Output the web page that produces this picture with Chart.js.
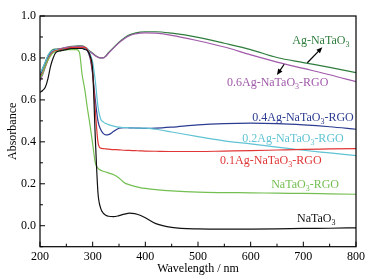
<!DOCTYPE html>
<html>
<head>
<meta charset="utf-8">
<script src="https://cdn.jsdelivr.net/npm/chart.js@4.4.0/dist/chart.umd.min.js"></script>
<style>
  body { margin: 0; background: #fff; }
  #wrap { width: 374px; height: 280px; }
</style>
</head>
<body>
<div id="wrap"><canvas id="myChart" width="374" height="280"></canvas></div>
<script>
// wavelength grid (nm) shared by all spectra
const wavelength = [200, 205, 210, 215, 220, 225, 230, 240, 250, 260, 270, 275, 280, 285, 290, 295, 300, 305, 310, 315, 320, 325, 330, 340, 350, 360, 370, 380, 390, 400, 420, 450, 500, 550, 600, 650, 700, 750, 800];

// absorbance values
const naTaO3 = [0.635, 0.645, 0.66, 0.70, 0.76, 0.80, 0.825, 0.835, 0.84, 0.845, 0.845, 0.845, 0.845, 0.84, 0.835, 0.81, 0.74, 0.42, 0.16, 0.085, 0.06, 0.05, 0.045, 0.043, 0.048, 0.055, 0.06, 0.058, 0.05, 0.038, 0.01, -0.008, -0.015, -0.016, -0.016, -0.015, -0.013, -0.012, -0.01];
const naTaO3Rgo = [0.705, 0.725, 0.76, 0.79, 0.81, 0.825, 0.83, 0.835, 0.84, 0.84, 0.84, 0.825, 0.72, 0.65, 0.56, 0.48, 0.39, 0.30, 0.275, 0.265, 0.26, 0.256, 0.252, 0.243, 0.228, 0.205, 0.195, 0.188, 0.182, 0.178, 0.172, 0.166, 0.16, 0.158, 0.157, 0.155, 0.154, 0.152, 0.15];
const ag01 = [0.71, 0.73, 0.76, 0.79, 0.815, 0.83, 0.835, 0.84, 0.845, 0.85, 0.85, 0.85, 0.85, 0.85, 0.84, 0.81, 0.73, 0.55, 0.40, 0.37, 0.368, 0.366, 0.365, 0.363, 0.362, 0.36, 0.359, 0.358, 0.357, 0.356, 0.355, 0.354, 0.354, 0.356, 0.358, 0.361, 0.364, 0.366, 0.368];
const ag02 = [0.725, 0.75, 0.78, 0.81, 0.83, 0.835, 0.84, 0.84, 0.845, 0.85, 0.85, 0.85, 0.85, 0.848, 0.845, 0.82, 0.78, 0.69, 0.57, 0.51, 0.495, 0.487, 0.482, 0.475, 0.47, 0.468, 0.467, 0.466, 0.465, 0.465, 0.46, 0.447, 0.425, 0.405, 0.39, 0.375, 0.36, 0.347, 0.334];
const ag04 = [0.715, 0.745, 0.775, 0.805, 0.825, 0.835, 0.84, 0.84, 0.845, 0.845, 0.85, 0.85, 0.848, 0.845, 0.835, 0.80, 0.72, 0.60, 0.50, 0.46, 0.44, 0.433, 0.434, 0.45, 0.465, 0.468, 0.467, 0.466, 0.465, 0.464, 0.465, 0.47, 0.481, 0.487, 0.489, 0.487, 0.481, 0.472, 0.46];
const ag06 = [0.69, 0.72, 0.755, 0.79, 0.815, 0.83, 0.838, 0.845, 0.85, 0.853, 0.855, 0.855, 0.855, 0.85, 0.84, 0.83, 0.82, 0.81, 0.803, 0.80, 0.80, 0.808, 0.822, 0.848, 0.872, 0.892, 0.906, 0.914, 0.918, 0.92, 0.918, 0.908, 0.882, 0.852, 0.815, 0.78, 0.75, 0.72, 0.687];
const agNaTaO3 = [0.72, 0.75, 0.78, 0.81, 0.83, 0.84, 0.842, 0.845, 0.85, 0.855, 0.857, 0.858, 0.858, 0.852, 0.842, 0.832, 0.822, 0.812, 0.804, 0.80, 0.80, 0.81, 0.825, 0.85, 0.875, 0.895, 0.91, 0.918, 0.923, 0.925, 0.925, 0.918, 0.898, 0.87, 0.84, 0.802, 0.778, 0.755, 0.73];

const xTicks = [200, 300, 400, 500, 600, 700, 800];
const yTicks = [0.0, 0.2, 0.4, 0.6, 0.8, 1.0];
const xMinor = [250, 350, 450, 550, 650, 750];
const yMinor = [-0.1, 0.1, 0.3, 0.5, 0.7, 0.9];

const seriesNames = ['NaTaO_3', 'NaTaO_3-RGO', '0.1Ag-NaTaO_3-RGO', '0.2Ag-NaTaO_3-RGO', '0.4Ag-NaTaO_3-RGO', '0.6Ag-NaTaO_3-RGO', 'Ag-NaTaO_3'];
const seriesValues = [naTaO3, naTaO3Rgo, ag01, ag02, ag04, ag06, agNaTaO3];
const seriesColors = ['#111111', '#74bf52', '#e03636', '#5fc3d3', '#2b3c92', '#a159aa', '#2f7d3e'];

// label anchors (left, baseline) in data units
const labelX = [688, 639, 542, 584, 603, 555, 679];
const labelY = [0.018, 0.180, 0.294, 0.399, 0.499, 0.666, 0.866];

// arrows: [tailX, tailY, headX, headY] in data units
const arrows = [
  { color: '#000', pts: [707.6, 0.777, 736.1, 0.851] },
  { color: '#000', pts: [663.7, 0.770, 649.9, 0.719] }
];

const FONT = '"Liberation Serif", "Times New Roman", serif';

function toPoints(ys) {
  return wavelength.map((x, i) => ({ x: x, y: ys[i] }));
}

function drawLabel(ctx, text, x, y, color) {
  ctx.fillStyle = color;
  ctx.textBaseline = 'alphabetic';
  ctx.textAlign = 'left';
  let cx = x;
  const parts = text.split('_');
  parts.forEach((p, i) => {
    if (i > 0) {
      ctx.font = '8px ' + FONT;
      ctx.fillText(p[0], cx, y + 3);
      cx += ctx.measureText(p[0]).width;
      p = p.slice(1);
    }
    ctx.font = '12px ' + FONT;
    ctx.fillText(p, cx, y);
    cx += ctx.measureText(p).width;
  });
}

const decorPlugin = {
  id: 'decor',
  afterDraw(chart) {
    const ctx = chart.ctx;
    const xs = chart.scales.x, ys = chart.scales.y;
    const a = chart.chartArea;
    ctx.save();
    // frame
    ctx.strokeStyle = '#000';
    ctx.lineWidth = 1.2;
    ctx.strokeRect(a.left, a.top, a.right - a.left, a.bottom - a.top);
    // inward ticks
    ctx.lineWidth = 1;
    ctx.beginPath();
    xTicks.forEach(v => { const p = xs.getPixelForValue(v); ctx.moveTo(p, a.bottom); ctx.lineTo(p, a.bottom - 5); });
    xMinor.forEach(v => { const p = xs.getPixelForValue(v); ctx.moveTo(p, a.bottom); ctx.lineTo(p, a.bottom - 3); });
    yTicks.forEach(v => { const p = ys.getPixelForValue(v); ctx.moveTo(a.left, p); ctx.lineTo(a.left + 5, p); });
    yMinor.forEach(v => { const p = ys.getPixelForValue(v); ctx.moveTo(a.left, p); ctx.lineTo(a.left + 3, p); });
    ctx.stroke();
    // curve labels
    seriesNames.forEach((name, i) => {
      drawLabel(ctx, name, xs.getPixelForValue(labelX[i]), ys.getPixelForValue(labelY[i]), seriesColors[i]);
    });
    // arrows
    arrows.forEach(ar => {
      const x1 = xs.getPixelForValue(ar.pts[0]), y1 = ys.getPixelForValue(ar.pts[1]);
      const x2 = xs.getPixelForValue(ar.pts[2]), y2 = ys.getPixelForValue(ar.pts[3]);
      const ang = Math.atan2(y2 - y1, x2 - x1);
      ctx.strokeStyle = ar.color;
      ctx.fillStyle = ar.color;
      ctx.lineWidth = 1.2;
      ctx.beginPath();
      ctx.moveTo(x1, y1);
      ctx.lineTo(x2 - 4 * Math.cos(ang), y2 - 4 * Math.sin(ang));
      ctx.stroke();
      ctx.beginPath();
      ctx.moveTo(x2, y2);
      ctx.lineTo(x2 - 6 * Math.cos(ang) + 2.5 * Math.sin(ang), y2 - 6 * Math.sin(ang) - 2.5 * Math.cos(ang));
      ctx.lineTo(x2 - 6 * Math.cos(ang) - 2.5 * Math.sin(ang), y2 - 6 * Math.sin(ang) + 2.5 * Math.cos(ang));
      ctx.closePath();
      ctx.fill();
    });
    ctx.restore();
  }
};

const ctx = document.getElementById('myChart').getContext('2d');
new Chart(ctx, {
  type: 'line',
  data: {
    datasets: seriesValues.map((vals, i) => ({
      label: seriesNames[i].replace('_', ''),
      data: toPoints(vals),
      borderColor: seriesColors[i],
      borderWidth: 1.2,
      pointRadius: 0,
      fill: false,
      cubicInterpolationMode: 'monotone'
    }))
  },
  options: {
    responsive: false,
    animation: false,
    devicePixelRatio: 1,
    layout: { padding: { left: 0, right: 18, top: 16, bottom: 0 } },
    plugins: { legend: { display: false }, tooltip: { enabled: false } },
    scales: {
      x: {
        type: 'linear',
        min: 200,
        max: 800,
        afterBuildTicks: s => { s.ticks = xTicks.map(v => ({ value: v })); },
        afterFit: s => { s.height = 33.3; },
        grid: { display: false, drawTicks: false },
        border: { display: false },
        ticks: { padding: 3, color: '#000', font: { family: FONT, size: 12 } },
        title: { display: true, text: 'Wavelength / nm', color: '#000', font: { family: FONT, size: 12 }, padding: { top: 0, bottom: 4 } }
      },
      y: {
        min: -0.1,
        max: 1.0,
        afterBuildTicks: s => { s.ticks = yTicks.map(v => ({ value: v })); },
        afterFit: s => { s.width = 40; },
        grid: { display: false, drawTicks: false },
        border: { display: false },
        ticks: { padding: 4, color: '#000', font: { family: FONT, size: 12 }, callback: v => v.toFixed(1) },
        title: { display: true, text: 'Absorbance', color: '#000', font: { family: FONT, size: 12 }, padding: { top: 6, bottom: 0 } }
      }
    }
  },
  plugins: [decorPlugin]
});
</script>
</body>
</html>
